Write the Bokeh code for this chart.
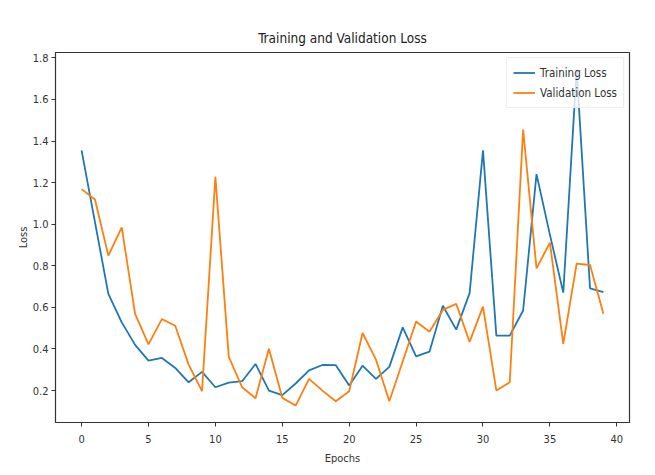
from bokeh.plotting import figure
from bokeh.models import Range1d, Legend, LegendItem, FixedTicker
from bokeh.embed import file_html
from bokeh.resources import INLINE

epochs = list(range(40))
training_loss = [1.355, 1.01, 0.665, 0.528, 0.42, 0.344, 0.357, 0.309, 0.24, 0.29,
                 0.216, 0.238, 0.245, 0.328, 0.2, 0.178, 0.234, 0.297, 0.323, 0.322,
                 0.225, 0.32, 0.256, 0.314, 0.504, 0.365, 0.387, 0.608, 0.493, 0.669,
                 1.355, 0.464, 0.464, 0.585, 1.241, 0.95, 0.671, 1.745, 0.692, 0.673]
validation_loss = [1.169, 1.119, 0.849, 0.985, 0.569, 0.422, 0.544, 0.512, 0.325, 0.197,
                   1.228, 0.362, 0.216, 0.163, 0.401, 0.165, 0.128, 0.256, 0.2, 0.149,
                   0.197, 0.477, 0.349, 0.149, 0.34, 0.532, 0.483, 0.588, 0.617, 0.434,
                   0.604, 0.2, 0.24, 1.455, 0.788, 0.911, 0.425, 0.811, 0.804, 0.569]
x_ticks = [0, 5, 10, 15, 20, 25, 30, 35, 40]
y_ticks = [0.2, 0.4, 0.6, 0.8, 1.0, 1.2, 1.4, 1.6, 1.8]

FONT = "DejaVu Sans Condensed"

p = figure(width=639, height=467, output_backend="svg", toolbar_location=None,
           x_range=Range1d(-1.95, 40.95), y_range=Range1d(0.0465, 1.826),
           min_border_left=55, min_border_right=10, min_border_top=52, min_border_bottom=44,
           title="Training and Validation Loss")
p.title.align = "center"
p.title.text_font = FONT
p.title.text_font_size = "13.5px"
p.title.text_font_style = "normal"
p.title.text_color = "#222222"
p.title.standoff = 13

l1 = p.line(epochs, training_loss, line_color="#1f77b4", line_width=1.8)
l2 = p.line(epochs, validation_loss, line_color="#ff7f0e", line_width=1.8)

p.xgrid.visible = False
p.ygrid.visible = False
p.outline_line_color = "#333333"
p.outline_line_width = 1.2

for ax in (p.xaxis[0], p.yaxis[0]):
    ax.major_tick_in = 0
    ax.major_tick_out = 4
    ax.minor_tick_line_color = None
    ax.axis_line_color = "#333333"
    ax.major_tick_line_color = "#333333"
    ax.major_label_text_font = FONT
    ax.major_label_text_font_size = "11px"
    ax.major_label_text_color = "#333333"
    ax.axis_label_text_font = FONT
    ax.axis_label_text_font_size = "11px"
    ax.axis_label_text_font_style = "normal"
    ax.axis_label_text_color = "#333333"

p.xaxis.major_label_standoff = 8
p.xaxis.axis_label_standoff = 6
p.yaxis.major_label_standoff = 3
p.yaxis.axis_label_standoff = 0
p.xaxis.ticker = FixedTicker(ticks=x_ticks)
p.yaxis.ticker = FixedTicker(ticks=y_ticks)
p.yaxis.major_label_overrides = {v: f"{v:.1f}" for v in y_ticks}
p.xaxis.axis_label = "Epochs"
p.yaxis.axis_label = "Loss"

legend = Legend(items=[LegendItem(label="Training Loss", renderers=[l1]),
                       LegendItem(label="Validation Loss", renderers=[l2])],
                location="top_right")
legend.label_text_font = FONT
legend.label_text_font_size = "11.5px"
legend.label_text_color = "#333333"
legend.border_line_color = "#dddddd"
legend.background_fill_alpha = 0.8
legend.glyph_width = 22
legend.glyph_height = 17
legend.spacing = 3
legend.padding = 6
legend.margin = 5
p.add_layout(legend)

open("out.html", "w").write(file_html(p, INLINE))
